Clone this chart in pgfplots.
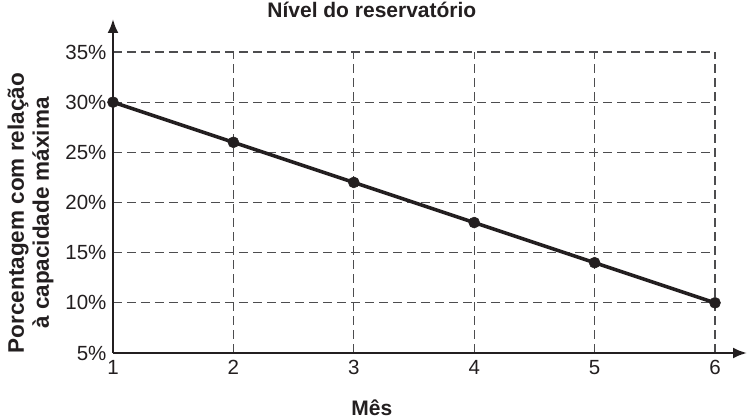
\documentclass[border=0pt]{standalone}
\usepackage{pgfplots}
\pgfplotsset{compat=1.18}
\usepackage{fontspec}
\setmainfont{Liberation Sans}
\usetikzlibrary{arrows.meta}
\definecolor{ink}{HTML}{231F20}
\definecolor{gridc}{HTML}{4D4D4F}
\begin{document}
\begin{tikzpicture}
\begin{axis}[
  at={(0pt,0pt)}, anchor=south west,
  scale only axis, width=602pt, height=301pt,
  xmin=1, xmax=6, ymin=5, ymax=35,
  clip=false,
  axis lines=left,
  axis line style={line width=2.4pt, ink},
  x axis line style={-{Latex[length=14pt,width=11pt]}, shorten >=-32pt},
  y axis line style={-{Latex[length=14pt,width=11pt]}, shorten >=-33pt},
  xtick={1,2,3,4,5,6}, ytick={5,10,15,20,25,30,35},
  major tick length=0pt,
  grid=major,
  major grid style={gridc, line width=1.1pt, dash pattern=on 9pt off 5pt},
  /pgf/number format/assume math mode=true,
  ticklabel style={font=\fontsize{20.5}{24}\selectfont, text=ink},
  yticklabel={\pgfmathprintnumber{\tick}\%},
  xticklabel style={yshift=-4pt},
  yticklabel style={xshift=-3pt},
  title={Nível do reservatório},
  title style={at={(axis description cs:0.43,1.12)}, anchor=center, font=\bfseries\fontsize{21}{24}\selectfont, text=ink},
  xlabel={Mês},
  xlabel style={at={(axis description cs:0.43,-0.183)}, anchor=center, font=\bfseries\fontsize{21}{24}\selectfont, text=ink},
  ylabel={Porcentagem com relação\\[1.5pt]à capacidade máxima},
  ylabel style={at={(axis description cs:-0.137,0.465)}, anchor=center, align=center, font=\bfseries\fontsize{22.5}{23.5}\selectfont, text=ink},
]
\addplot[ink, line width=3.6pt, mark=*, mark size=5.5pt, mark options={fill=ink, line width=0.5pt}]
  coordinates {(1,30) (2,26) (3,22) (4,18) (5,14) (6,10)};
\end{axis}
\pgfresetboundingbox
\path[use as bounding box] (-113pt,-66pt) rectangle (641pt,353pt);
\end{tikzpicture}
\end{document}
